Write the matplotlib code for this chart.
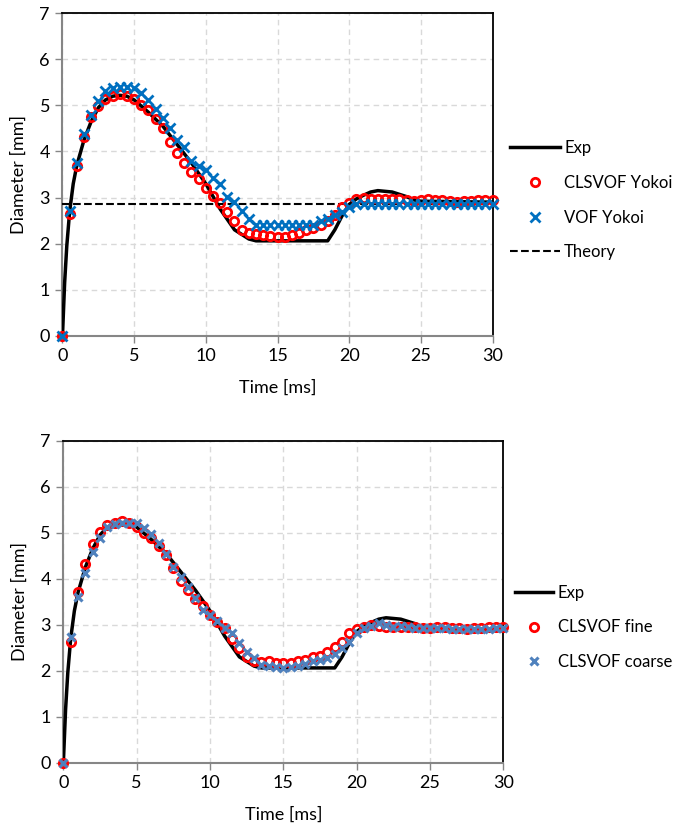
import numpy as np
import matplotlib
matplotlib.use("Agg")
import matplotlib.pyplot as plt

plt.rcParams['font.family'] = ['Lato', 'DejaVu Sans']

# tiempos de los puntos de simulacion (cada 0.5 ms)
t_sim = np.arange(0, 30.01, 0.5)

# experimento
t_exp = [0, 0.15, 0.3, 0.5, 0.75, 1, 1.5, 2, 2.5, 3, 3.5, 4, 4.5, 5, 6, 7, 8, 9, 10,
         11, 12, 13, 13.5, 18.5, 19, 19.5, 20, 20.5, 21, 21.5, 22, 23, 24, 24.5, 25, 30]
d_exp = [0, 1.15, 1.95, 2.7, 3.3, 3.7, 4.25, 4.65, 4.95, 5.12, 5.2, 5.22, 5.2, 5.12,
         4.85, 4.55, 4.15, 3.75, 3.3, 2.75, 2.3, 2.1, 2.06, 2.06, 2.3, 2.6, 2.85, 2.97,
         3.05, 3.12, 3.15, 3.12, 3.02, 2.95, 2.92, 2.9]

d_theory = 2.87

# grafica de arriba
clsvof_yokoi = [0, 2.65, 3.69, 4.32, 4.75, 4.99, 5.13, 5.21, 5.24, 5.21, 5.15, 5.0, 4.9,
                4.7, 4.51, 4.21, 3.96, 3.76, 3.56, 3.40, 3.2, 3.04, 2.89, 2.69, 2.5, 2.29,
                2.22, 2.2, 2.18, 2.16, 2.15, 2.15, 2.18, 2.22, 2.29, 2.34, 2.4, 2.5, 2.62,
                2.8, 2.89, 2.96, 2.98, 2.97, 2.97, 2.96, 2.96, 2.96, 2.95, 2.93, 2.94,
                2.96, 2.95, 2.94, 2.92, 2.91, 2.92, 2.93, 2.94, 2.95, 2.95]
vof_yokoi = [0, 2.7, 3.74, 4.39, 4.79, 5.1, 5.32, 5.38, 5.4, 5.4, 5.38, 5.26, 5.12, 4.92,
             4.72, 4.5, 4.25, 4.1, 3.8, 3.69, 3.6, 3.42, 3.3, 3.02, 2.91, 2.71, 2.53, 2.4,
             2.4, 2.4, 2.4, 2.4, 2.4, 2.4, 2.4, 2.4, 2.48, 2.53, 2.62, 2.69, 2.8, 2.85,
             2.86, 2.87, 2.87, 2.87, 2.87, 2.87, 2.87, 2.87, 2.87, 2.87, 2.87, 2.87, 2.87,
             2.87, 2.87, 2.87, 2.87, 2.87, 2.87]

# grafica de abajo
clsvof_fine = [0, 2.63, 3.70, 4.32, 4.75, 5.01, 5.17, 5.22, 5.26, 5.2, 5.13, 5.0, 4.89,
               4.7, 4.52, 4.23, 3.96, 3.75, 3.56, 3.41, 3.21, 3.05, 2.92, 2.68, 2.49, 2.29,
               2.2, 2.19, 2.21, 2.17, 2.16, 2.17, 2.2, 2.23, 2.29, 2.31, 2.41, 2.51, 2.63,
               2.81, 2.9, 2.96, 2.99, 2.97, 2.96, 2.96, 2.96, 2.95, 2.95, 2.93, 2.93, 2.95,
               2.95, 2.93, 2.92, 2.91, 2.92, 2.93, 2.94, 2.95, 2.95]
clsvof_coarse = [0, 2.73, 3.6, 4.12, 4.59, 4.89, 5.12, 5.19, 5.22, 5.21, 5.2, 5.1, 4.97,
                 4.77, 4.53, 4.25, 4.03, 3.81, 3.57, 3.32, 3.21, 3.07, 2.93, 2.81, 2.61,
                 2.41, 2.27, 2.12, 2.1, 2.09, 2.05, 2.09, 2.1, 2.15, 2.2, 2.23, 2.28, 2.36,
                 2.49, 2.63, 2.81, 2.92, 2.97, 3.03, 2.99, 2.96, 2.97, 2.95, 2.93, 2.93,
                 2.92, 2.92, 2.92, 2.91, 2.9, 2.9, 2.9, 2.91, 2.91, 2.92, 2.92]


def estilo(ax):
    ax.set_xlim(0, 30)
    ax.set_ylim(0, 7)
    ax.set_xticks(range(0, 31, 5))
    ax.set_yticks(range(0, 8))
    ax.grid(True, color="#d9d9d9", linestyle=(0, (4, 3)), linewidth=1)
    ax.set_axisbelow(True)
    for lado in ["left", "bottom"]:
        ax.spines[lado].set_color("#868686")
        ax.spines[lado].set_linewidth(1.5)
    for lado in ["top", "right"]:
        ax.spines[lado].set_color("black")
        ax.spines[lado].set_linewidth(1.3)
    ax.tick_params(direction="out", length=5, width=1, color="#868686",
                   labelsize=13, pad=4)
    ax.set_xlabel("Time [ms]", fontsize=13, labelpad=11)
    ax.set_ylabel("Diameter [mm]", fontsize=13, labelpad=9)


fig = plt.figure(figsize=(6.77, 8.33), dpi=100)

ax1 = fig.add_axes([0.0923, 0.597, 0.6352, 0.387])
ax1.plot(t_exp, d_exp, color="black", lw=2.5, label="Exp", zorder=3)
ax1.plot(t_sim, clsvof_yokoi, "o", ms=6, mfc="none", mec="#ff0000", mew=2,
         label="CLSVOF Yokoi", zorder=4, clip_on=False)
ax1.plot(t_sim, vof_yokoi, "x", ms=7, color="#0070c0", mew=2,
         label="VOF Yokoi", zorder=5, clip_on=False)
ax1.plot([0, 30], [d_theory, d_theory], "--", color="black", lw=1.5,
         label="Theory", zorder=3)
estilo(ax1)
ax1.legend(loc="center left", bbox_to_anchor=(1.0, 0.42), frameon=False,
           fontsize=12, handlelength=3.0, labelspacing=1.12, handletextpad=0.25,
           borderaxespad=0.65)

ax2 = fig.add_axes([0.0936, 0.0844, 0.65, 0.3866])
ax2.plot(t_exp, d_exp, color="black", lw=2.5, label="Exp", zorder=3)
ax2.plot(t_sim, clsvof_fine, "o", ms=6, mfc="none", mec="#ff0000", mew=2,
         label="CLSVOF fine", zorder=4, clip_on=False)
ax2.plot(t_sim, clsvof_coarse, "x", ms=6, color="#4f81bd", mew=2.2,
         label="CLSVOF coarse", zorder=5, clip_on=False)
estilo(ax2)
ax2.legend(loc="center left", bbox_to_anchor=(1.0, 0.42), frameon=False,
           fontsize=12, handlelength=2.3, labelspacing=1.12, handletextpad=0.25,
           borderaxespad=0.3)

fig.savefig("out.png", dpi=100)
